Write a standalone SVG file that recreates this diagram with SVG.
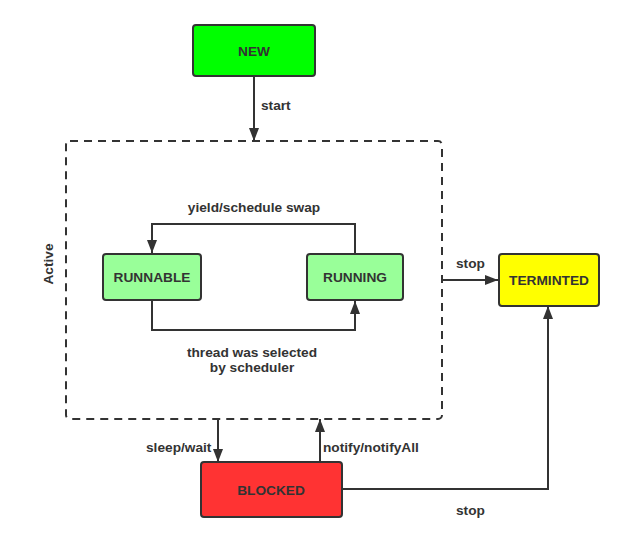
<svg xmlns="http://www.w3.org/2000/svg" width="623" height="545" viewBox="0 0 623 545">
  <style>
    .node { stroke: #333; stroke-width: 2; }
    .lbl { font-family: "Liberation Sans", Arial, sans-serif; font-size: 13.7px; font-weight: bold; fill: #333; }
    .conn { fill: none; stroke: #333; stroke-width: 2; }
  </style>
  <defs>
    <marker id="arrow" viewBox="0 0 13 10" refX="13" refY="5" markerWidth="13" markerHeight="10" markerUnits="userSpaceOnUse" orient="auto">
      <path d="M0,0 L13,5 L0,10 Z" fill="#333"/>
    </marker>
  </defs>
  <rect width="623" height="545" fill="#fff"/>

  <!-- Active container -->
  <g id="active">
    <rect x="66" y="141" width="376" height="278" rx="4" fill="none" stroke="#333" stroke-width="2" stroke-dasharray="8,6"/>
    <text class="lbl" transform="translate(53,264) rotate(-90)" text-anchor="middle">Active</text>
  </g>

  <!-- Connectors -->
  <g id="connectors">
    <line class="conn" x1="254" y1="76" x2="254" y2="141" marker-end="url(#arrow)"/>
    <path class="conn" d="M355,254 V224 H152 V253" marker-end="url(#arrow)"/>
    <path class="conn" d="M152,300 V330 H355 V301" marker-end="url(#arrow)"/>
    <line class="conn" x1="442" y1="280" x2="498" y2="280" marker-end="url(#arrow)"/>
    <line class="conn" x1="218" y1="419" x2="218" y2="462" marker-end="url(#arrow)"/>
    <line class="conn" x1="320" y1="462" x2="320" y2="419" marker-end="url(#arrow)"/>
    <path class="conn" d="M342,489 H548 V306" marker-end="url(#arrow)"/>
    <text class="lbl" x="261" y="110">start</text>
    <text class="lbl" x="254" y="212" text-anchor="middle">yield/schedule swap</text>
    <text class="lbl" x="252" y="357" text-anchor="middle">thread was selected</text>
    <text class="lbl" x="252" y="372" text-anchor="middle">by scheduler</text>
    <text class="lbl" x="456" y="268">stop</text>
    <text class="lbl" x="146" y="452">sleep/wait</text>
    <text class="lbl" x="323" y="452">notify/notifyAll</text>
    <text class="lbl" x="456" y="515">stop</text>
  </g>

  <!-- Nodes -->
  <g id="new">
    <rect class="node" x="193" y="25" width="122" height="51" rx="3" fill="#00ff00"/>
    <text class="lbl" x="254" y="56" text-anchor="middle">NEW</text>
  </g>
  <g id="runnable">
    <rect class="node" x="103" y="254" width="98" height="46" rx="3" fill="#99ff99"/>
    <text class="lbl" x="152" y="282" text-anchor="middle">RUNNABLE</text>
  </g>
  <g id="running">
    <rect class="node" x="307" y="254" width="96" height="46" rx="3" fill="#99ff99"/>
    <text class="lbl" x="355" y="282" text-anchor="middle">RUNNING</text>
  </g>
  <g id="terminted">
    <rect class="node" x="499" y="254" width="100" height="52" rx="3" fill="#ffff00"/>
    <text class="lbl" x="549" y="285" text-anchor="middle">TERMINTED</text>
  </g>
  <g id="blocked">
    <rect class="node" x="201" y="462" width="141" height="55" rx="3" fill="#ff3333"/>
    <text class="lbl" x="271" y="495" text-anchor="middle">BLOCKED</text>
  </g>
</svg>
